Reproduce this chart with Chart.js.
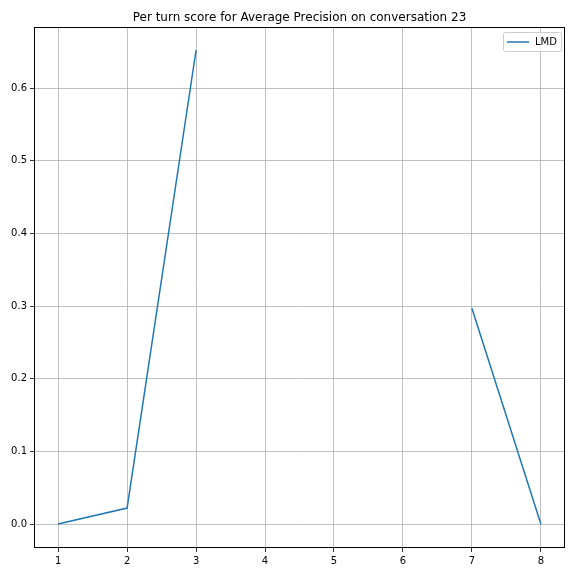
<!DOCTYPE html>
<html>
<head>
<meta charset="utf-8">
<script src="https://cdn.jsdelivr.net/npm/chart.js@4/dist/chart.umd.min.js"></script>
<style>
  html, body { margin: 0; padding: 0; background: #fff; }
  #wrap { width: 576px; height: 576px; }
</style>
</head>
<body>
<div id="wrap"><canvas id="turnChart" width="576" height="576"></canvas></div>
<script>
const turns = [1, 2, 3, 4, 5, 6, 7, 8]
const lmdScores = [0, 0.022, 0.652, null, null, null, 0.297, 0]
const xTicks = [1, 2, 3, 4, 5, 6, 7, 8]
const yTicks = [0, 0.1, 0.2, 0.3, 0.4, 0.5, 0.6]
const chartTitle = 'Per turn score for Average Precision on conversation 23'

const points = turns.map((t, i) => ({ x: t, y: lmdScores[i] }))

// frame, title over the plot and the legend box inside it (matplotlib look)
const mplLook = {
  id: 'mplLook',
  afterDraw(chart) {
    const ctx = chart.ctx
    const area = chart.chartArea
    const ds = chart.data.datasets[0]
    ctx.save()

    // full box round the axes
    ctx.strokeStyle = '#000'
    ctx.lineWidth = 1
    ctx.strokeRect(Math.round(area.left) + 0.5, Math.round(area.top) + 0.5,
      Math.round(area.right - area.left) - 1, Math.round(area.bottom - area.top) - 1)

    // title centred on the plot area
    ctx.fillStyle = '#000'
    ctx.font = '12px "DejaVu Sans"'
    ctx.textAlign = 'center'
    ctx.textBaseline = 'alphabetic'
    ctx.fillText(chartTitle, (area.left + area.right) / 2, area.top - 6)

    // legend
    const w = 58, h = 19
    const x = area.right - 4 - w, y = area.top + 5
    ctx.fillStyle = 'rgba(255,255,255,0.8)'
    ctx.strokeStyle = '#cccccc'
    ctx.beginPath()
    ctx.roundRect(x + 0.5, y + 0.5, w, h, 2)
    ctx.fill()
    ctx.stroke()
    ctx.strokeStyle = ds.borderColor
    ctx.lineWidth = 1.5
    ctx.beginPath()
    ctx.moveTo(x + 4, y + 10)
    ctx.lineTo(x + 26, y + 10)
    ctx.stroke()
    ctx.fillStyle = '#000'
    ctx.font = '10px "DejaVu Sans"'
    ctx.textAlign = 'left'
    ctx.textBaseline = 'middle'
    ctx.fillText(ds.label, x + 32, y + 10.5)
    ctx.restore()
  }
}

new Chart("turnChart", {
  type: "line",
  data: {
    datasets: [{
      label: 'LMD',
      data: points,
      borderColor: '#1f77b4',
      borderWidth: 1.5,
      pointRadius: 0,
      fill: false,
      spanGaps: false,
      tension: 0
    }]
  },
  plugins: [mplLook],
  options: {
    responsive: false,
    animation: false,
    layout: { padding: { left: 0, right: 11, top: 27, bottom: 0 } },
    plugins: {
      legend: { display: false },
      tooltip: { enabled: false },
      title: { display: false }
    },
    scales: {
      x: {
        type: 'linear',
        min: 0.65,
        max: 8.35,
        afterBuildTicks: (s) => { s.ticks = xTicks.map(v => ({ value: v })) },
        afterFit: (s) => { s.height = 28 },
        border: { display: false },
        grid: { color: '#b0b0b0', lineWidth: 0.8, tickLength: 4, tickColor: '#000' },
        ticks: { color: '#000', font: { family: 'DejaVu Sans', size: 10 }, padding: 3, maxRotation: 0 }
      },
      y: {
        min: -0.033,
        max: 0.684,
        afterBuildTicks: (s) => { s.ticks = yTicks.map(v => ({ value: v })) },
        afterFit: (s) => { s.width = 34 },
        border: { display: false },
        grid: { color: '#b0b0b0', lineWidth: 0.8, tickLength: 4, tickColor: '#000' },
        ticks: {
          color: '#000',
          font: { family: 'DejaVu Sans', size: 10 },
          padding: 3,
          callback: (v) => v.toFixed(1)
        }
      }
    }
  }
});
</script>
</body>
</html>
